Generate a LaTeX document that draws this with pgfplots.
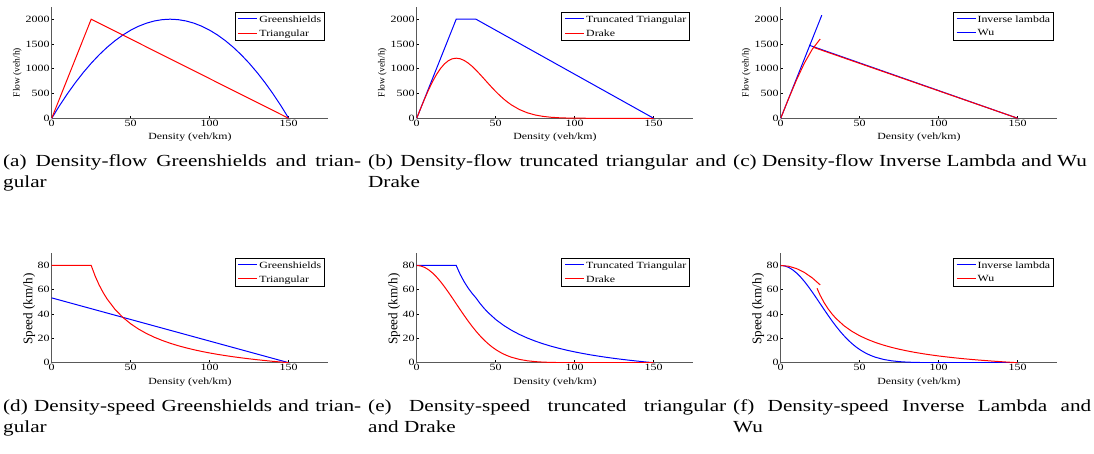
\documentclass[border=0pt]{standalone}
\usepackage{pgfplots}
\pgfplotsset{compat=1.18}
\usepackage{fontspec}
\setmainfont{Liberation Serif}[FakeStretch=1.25]
\newfontfamily\plainserif{Liberation Serif}

% legend sample line set in the entry text itself
\newcommand\lgl[1]{\textcolor{#1}{\rule[0.3em]{19bp}{1bp}}\hspace{2bp}}

\pgfplotsset{
  mpanel/.style={
    scale only axis, width=276.5bp,
    xmin=0, xmax=175, ymin=0,
    axis lines=left, axis line style={-, black!65, line width=1bp},
    xtick={0,50,100,150},
    tick align=inside, major tick length=2.5bp, tick style={black, line width=0.6bp},
    /pgf/number format/assume math mode=true,
    /pgf/number format/1000 sep={},
    ticklabel style={font=\fontsize{9.6}{10}\selectfont},
    xticklabel style={inner sep=1.5bp}, yticklabel style={inner sep=2bp},
    xlabel={Density (veh/km)},
    legend style={at={(axis description cs:0.989,0.955)}, anchor=north east,
      fill=white, font=\fontsize{9.5}{10}\selectfont,
      inner xsep=1.5bp, inner ysep=1bp, row sep=2bp, cells={anchor=west}},
    every axis legend/.append style={line width=0.9bp},
    legend image code/.code={},
  },
  flowrow/.style={mpanel, height=111bp, ymax=2240, ytick={0,500,...,2000},
    ylabel={Flow (veh/h)},
    ylabel style={at={(axis description cs:-0.124,0.413)}, anchor=center, font=\plainserif\fontsize{9.5}{10}\selectfont},
    xlabel style={at={(axis description cs:0.5,-0.168)}, anchor=center, font=\fontsize{9.5}{10}\selectfont}},
  speedrow/.style={mpanel, height=109.4bp, ymax=90, ytick={0,20,...,80},
    ylabel={Speed (km/h)},
    ylabel style={at={(axis description cs:-0.081,0.489)}, anchor=center, font=\plainserif\fontsize{13.2}{14}\selectfont},
    xlabel style={at={(axis description cs:0.5,-0.176)}, anchor=center, font=\fontsize{9.5}{10}\selectfont}},
}
\newcommand\capfont{\fontsize{17}{22}\selectfont}
\tikzset{subcap/.style={anchor=base west, text width=358bp, align=justify, inner sep=0pt, font=\capfont}}

\begin{document}
\begin{tikzpicture}
\useasboundingbox (0,0) rectangle (1094bp,-454bp);

% (a) density-flow Greenshields / triangular
\begin{axis}[flowrow, at={(51.7bp,-118.3bp)}, anchor=south west]
  \addplot[blue, line width=1bp] coordinates {(0,0)(5,257.8)(10,497.8)(15,720)(20,924.4)(25,1111.1)(30,1280)(35,1431.1)
    (40,1564.4)(45,1680)(50,1777.8)(55,1857.8)(60,1920)(65,1964.4)(70,1991.1)(75,2000)(80,1991.1)
    (85,1964.4)(90,1920)(95,1857.8)(100,1777.8)(105,1680)(110,1564.4)(115,1431.1)(120,1280)
    (125,1111.1)(130,924.4)(135,720)(140,497.8)(145,257.8)(150,0)};
  \addlegendentry{\lgl{blue}Greenshields}
  \addplot[red, line width=1bp] coordinates {(0,0)(25,2000)(150,0)};
  \addlegendentry{\lgl{red}Triangular}
\end{axis}

% (b) density-flow truncated triangular / Drake
\begin{axis}[flowrow, at={(416.7bp,-118.3bp)}, anchor=south west]
  \addplot[blue, line width=1bp] coordinates {(0,0)(25,2000)(37.5,2000)(150,0)};
  \addlegendentry{\lgl{blue}Truncated Triangular}
  \addplot[red, line width=1bp] coordinates {(0,0)(2.5,199.0)(5,392.1)(7.5,573.6)(10,738.5)(12.5,882.5)(15,1002.5)
    (17.5,1095.7)(20,1161.8)(22.5,1200.6)(25,1213.1)(27.5,1201.4)(30,1168.2)(32.5,1116.9)
    (35,1051.1)(37.5,974.0)(40,889.6)(42.5,801.5)(45,712.4)(47.5,624.7)(50,541.4)(52.5,463.3)
    (55,391.1)(57.5,326.6)(60,269.4)(65,176.8)(70,111.1)(75,66.7)(80,38.3)(85,21.0)(90,11.1)
    (95,5.5)(100,2.7)(110,0.3)(120,0)(150,0)};
  \addlegendentry{\lgl{red}Drake}
\end{axis}

% (c) density-flow inverse lambda / Wu
\begin{axis}[flowrow, at={(780.7bp,-118.3bp)}, anchor=south west]
  \addplot[blue, line width=1bp, forget plot] coordinates {(0,0)(26,2080)};
  \addplot[blue, line width=1bp, forget plot] coordinates {(18,1475)(150,0)};
  \addplot[red, line width=1bp, forget plot] coordinates {(0,0)(5,396.8)(10,774.4)(15,1113.6)(20,1395.2)(25,1600)};
  \addplot[red, line width=1bp, forget plot] coordinates {(21,1429)(150,0)};
  \addlegendimage{blue}\addlegendentry{\lgl{blue}Inverse lambda}
  \addlegendimage{blue}\addlegendentry{\lgl{blue}Wu}
\end{axis}

% (d) density-speed Greenshields / triangular
\begin{axis}[speedrow, at={(51.7bp,-362.7bp)}, anchor=south west]
  \addplot[blue, line width=1bp] coordinates {(0,53.33)(150,0)};
  \addlegendentry{\lgl{blue}Greenshields}
  \addplot[red, line width=1bp] coordinates {(0,80)(25,80)(27.5,71.27)(30,64)(32.5,57.85)(35,52.57)(40,44)(45,37.33)
    (50,32)(55,27.64)(60,24)(65,20.92)(70,18.29)(75,16)(80,14)(85,12.24)(90,10.67)(95,9.26)
    (100,8)(105,6.86)(110,5.82)(115,4.87)(120,4)(125,3.2)(130,2.46)(135,1.78)(140,1.14)
    (145,0.55)(150,0)};
  \addlegendentry{\lgl{red}Triangular}
\end{axis}

% (e) density-speed truncated triangular / Drake
\begin{axis}[speedrow, at={(416.7bp,-362.7bp)}, anchor=south west]
  \addplot[blue, line width=1bp] coordinates {(0,80)(25,80)(27.5,72.73)(30,66.67)(32.5,61.54)(35,57.14)(37.5,53.33)
    (40,48.89)(42.5,44.97)(45,41.48)(50,35.56)(55,30.71)(60,26.67)(65,23.25)(70,20.32)(75,17.78)
    (80,15.56)(85,13.59)(90,11.85)(95,10.29)(100,8.89)(105,7.62)(110,6.46)(115,5.41)(120,4.44)
    (125,3.56)(130,2.74)(135,1.98)(140,1.27)(145,0.61)(150,0)};
  \addlegendentry{\lgl{blue}Truncated Triangular}
  \addplot[red, line width=1bp] coordinates {(0,80)(2.5,79.60)(5,78.42)(7.5,76.48)(10,73.85)(12.5,70.60)(15,66.83)
    (17.5,62.61)(20,58.09)(22.5,53.36)(25,48.52)(27.5,43.69)(30,38.94)(32.5,34.37)(35,30.03)
    (37.5,25.97)(40,22.24)(42.5,18.86)(45,15.83)(47.5,13.15)(50,10.83)(52.5,8.82)(55,7.11)
    (57.5,5.68)(60,4.49)(65,2.72)(70,1.59)(75,0.89)(80,0.48)(85,0.25)(90,0.12)(95,0.06)
    (100,0.03)(110,0)(150,0)};
  \addlegendentry{\lgl{red}Drake}
\end{axis}

% (f) density-speed inverse lambda / Wu
\begin{axis}[speedrow, at={(780.7bp,-362.7bp)}, anchor=south west]
  \addplot[blue, line width=1bp] coordinates {(0,80)(2.5,79.60)(5,78.42)(7.5,76.48)(10,73.85)(12.5,70.60)(15,66.83)
    (17.5,62.61)(20,58.09)(22.5,53.36)(25,48.52)(27.5,43.69)(30,38.94)(32.5,34.37)(35,30.03)
    (37.5,25.97)(40,22.24)(42.5,18.86)(45,15.83)(47.5,13.15)(50,10.83)(52.5,8.82)(55,7.11)
    (57.5,5.68)(60,4.49)(65,2.72)(70,1.59)(75,0.89)(80,0.48)(85,0.25)(90,0.12)(95,0.06)
    (100,0.03)(110,0)(150,0)};
  \addlegendentry{\lgl{blue}Inverse lambda}
  \addplot[red, line width=1bp] coordinates {(0,80)(5,79.36)(10,77.44)(15,74.24)(20,69.76)(25,64)};
  \addlegendentry{\lgl{red}Wu}
  \addplot[red, line width=1bp, forget plot] coordinates {(23,61.18)(25,55.4)(27.5,49.36)(30,44.32)(32.5,40.06)
    (35,36.41)(40,30.47)(45,25.85)(50,22.16)(55,19.14)(60,16.62)(65,14.49)(70,12.66)(75,11.08)
    (80,9.70)(85,8.47)(90,7.39)(95,6.42)(100,5.54)(105,4.75)(110,4.03)(115,3.37)(120,2.77)
    (125,2.22)(130,1.71)(135,1.23)(140,0.79)(145,0.38)(150,0)};
\end{axis}

% sub-captions
\node[subcap] at (3bp,-166bp) {(a) Density-flow Greenshields and trian-\linebreak gular};
\node[subcap] at (368bp,-166bp) {(b) Density-flow truncated triangular and\linebreak Drake};
\node[subcap] at (733bp,-166bp) {\parfillskip=0pt (c) Density-flow Inverse Lambda and Wu};
\node[subcap] at (3bp,-411bp) {(d) Density-speed Greenshields and trian-\linebreak gular};
\node[subcap] at (368bp,-411bp) {(e) Density-speed truncated triangular\linebreak and Drake};
\node[subcap] at (733bp,-411bp) {(f) Density-speed Inverse Lambda and\linebreak Wu};
\end{tikzpicture}
\end{document}
